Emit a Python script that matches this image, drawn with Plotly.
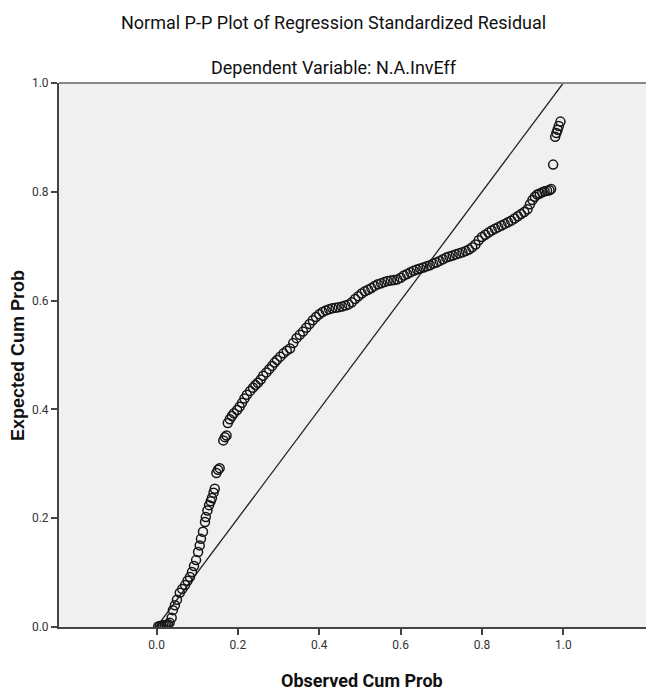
import plotly.graph_objects as go

# Observed cumulative probability (x) and expected cumulative probability (y)
observed_cum_prob = [
    0.004, 0.008, 0.012, 0.016, 0.020, 0.024, 0.028, 0.032,
    0.037, 0.040, 0.045, 0.050, 0.057, 0.063, 0.070, 0.076, 0.082, 0.087,
    0.092, 0.097, 0.102, 0.106, 0.109, 0.114, 0.119, 0.121, 0.125, 0.129,
    0.133, 0.136, 0.140, 0.143, 0.147, 0.151, 0.155, 0.164, 0.168, 0.172,
    0.175, 0.180, 0.185, 0.190, 0.198, 0.204, 0.210, 0.216, 0.222, 0.230,
    0.237, 0.243, 0.249, 0.256, 0.262, 0.270, 0.277, 0.284, 0.290, 0.296,
    0.304, 0.312, 0.320, 0.328, 0.336, 0.344, 0.352, 0.360, 0.368, 0.376,
    0.384, 0.392, 0.400, 0.408, 0.416, 0.424, 0.432, 0.440, 0.448, 0.456,
    0.464, 0.472, 0.480, 0.488, 0.496, 0.504, 0.512, 0.520, 0.528, 0.536,
    0.544, 0.552, 0.560, 0.568, 0.576, 0.584, 0.592, 0.600, 0.608, 0.616,
    0.624, 0.632, 0.640, 0.648, 0.656, 0.664, 0.672, 0.680, 0.688, 0.696,
    0.704, 0.712, 0.720, 0.728, 0.736, 0.744, 0.752, 0.760, 0.768, 0.776,
    0.784, 0.792, 0.800, 0.808, 0.816, 0.824, 0.832, 0.840, 0.848, 0.856,
    0.864, 0.872, 0.880, 0.888, 0.896, 0.904, 0.912, 0.918, 0.924, 0.930,
    0.936, 0.942, 0.948, 0.954, 0.960, 0.966, 0.970, 0.975, 0.980, 0.983,
    0.986, 0.989, 0.993,
]
expected_cum_prob = [
    0.001, 0.002, 0.002, 0.003, 0.003, 0.004, 0.005, 0.008,
    0.017, 0.031, 0.040, 0.050, 0.063, 0.070, 0.077, 0.085, 0.092, 0.101,
    0.112, 0.123, 0.138, 0.150, 0.162, 0.175, 0.193, 0.202, 0.214, 0.224,
    0.231, 0.237, 0.247, 0.254, 0.283, 0.289, 0.292, 0.343, 0.349, 0.352,
    0.375, 0.382, 0.388, 0.393, 0.399, 0.405, 0.412, 0.420, 0.427, 0.434,
    0.440, 0.445, 0.449, 0.455, 0.462, 0.468, 0.474, 0.480, 0.486, 0.491,
    0.497, 0.503, 0.508, 0.512, 0.522, 0.531, 0.537, 0.543, 0.550, 0.557,
    0.564, 0.570, 0.575, 0.579, 0.582, 0.584, 0.586, 0.587, 0.588, 0.589,
    0.591, 0.593, 0.597, 0.603, 0.608, 0.613, 0.617, 0.620, 0.623, 0.627,
    0.630, 0.632, 0.634, 0.636, 0.637, 0.638, 0.639, 0.642, 0.646, 0.649,
    0.652, 0.655, 0.657, 0.659, 0.661, 0.663, 0.665, 0.668, 0.670, 0.673,
    0.676, 0.679, 0.681, 0.683, 0.685, 0.687, 0.689, 0.691, 0.694, 0.698,
    0.703, 0.711, 0.717, 0.721, 0.725, 0.729, 0.732, 0.735, 0.738, 0.741,
    0.744, 0.747, 0.751, 0.755, 0.759, 0.763, 0.768, 0.777, 0.785, 0.791,
    0.795, 0.797, 0.799, 0.801, 0.802, 0.803, 0.805, 0.850, 0.901, 0.908,
    0.914, 0.921, 0.929,
]

reference_x = [0.0, 1.0]
reference_y = [0.0, 1.0]

tick_vals = [0.0, 0.2, 0.4, 0.6, 0.8, 1.0]
tick_text = ["0.0", "0.2", "0.4", "0.6", "0.8", "1.0"]

title_text = "Normal P-P Plot of Regression Standardized Residual"
subtitle_text = "Dependent Variable: N.A.InvEff"
x_title = "Observed Cum Prob"
y_title = "Expected Cum Prob"

narrow = "Roboto, Liberation Sans Narrow, sans-serif"
wide = "Liberation Sans, Arial, sans-serif"

fig = go.Figure()
fig.add_trace(go.Scatter(
    x=reference_x, y=reference_y, mode="lines",
    line=dict(color="#222222", width=1.3),
    hoverinfo="skip", showlegend=False,
))
fig.add_trace(go.Scatter(
    x=observed_cum_prob, y=expected_cum_prob, mode="markers",
    marker=dict(symbol="circle-open", size=9, color="#161616", line=dict(width=1.5)),
    showlegend=False,
))

axis_common = dict(
    showgrid=False, zeroline=False, showline=True, linecolor="#444444", linewidth=2,
    ticks="outside", ticklen=6, tickcolor="#444444", tickwidth=1.5,
    tickfont=dict(family=narrow, size=12, color="#333333"),
    tickvals=tick_vals, ticktext=tick_text,
)

fig.update_layout(
    width=646, height=685,
    margin=dict(l=51, r=0, t=75, b=66),
    paper_bgcolor="white", plot_bgcolor="#f0f0f0",
    xaxis=dict(range=[-0.24, 1.223], **axis_common),
    yaxis=dict(range=[0, 1], **axis_common),
    shapes=[dict(type="line", xref="paper", yref="paper", x0=0, x1=1, y0=1, y1=1,
                 line=dict(color="#888888", width=2))],
    annotations=[
        dict(text=title_text, xref="paper", yref="paper", x=0.462, y=1.112,
             showarrow=False, xanchor="center", yanchor="middle",
             font=dict(family=narrow, size=18, color="#111111")),
        dict(text=subtitle_text, xref="paper", yref="paper", x=0.462, y=1.029,
             showarrow=False, xanchor="center", yanchor="middle",
             font=dict(family=narrow, size=18, color="#111111")),
        dict(text="<b>" + x_title + "</b>", xref="paper", yref="paper", x=0.51, y=-0.099,
             showarrow=False, xanchor="center", yanchor="middle",
             font=dict(family=narrow, size=18, color="#111111")),
        dict(text="<b>" + y_title + "</b>", xref="paper", yref="paper", x=-0.069, y=0.5,
             showarrow=False, xanchor="center", yanchor="middle", textangle=-90,
             font=dict(family=wide, size=18, color="#111111")),
    ],
)

fig.write_html("out.html")
